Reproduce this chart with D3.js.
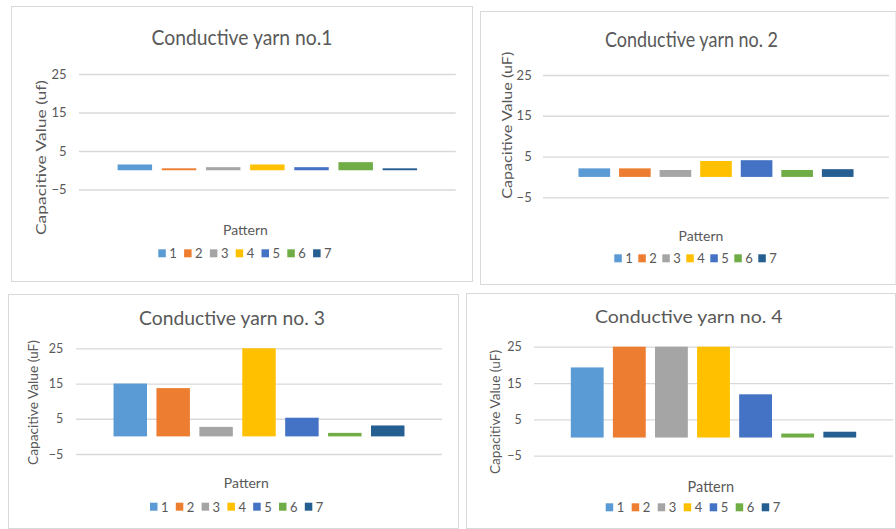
<!DOCTYPE html>
<html>
<head>
<meta charset="utf-8">
<script src="https://cdn.jsdelivr.net/npm/d3@7/dist/d3.min.js"></script>
<style>
  html, body { margin: 0; padding: 0; background: #ffffff; }
  svg { display: block; }
  text { font-family: Lato, "Open Sans", sans-serif; fill: #595959; }
</style>
</head>
<body>
<svg id="chart" width="896" height="529"></svg>
<script>
// Series labels (patterns) and measured capacitance per yarn
const patterns = ["1", "2", "3", "4", "5", "6", "7"];
const yarn1 = [1.5, 0.5, 0.8, 1.5, 0.8, 2.1, 0.5];
const yarn2 = [2.1, 2.1, 1.7, 3.9, 4.1, 1.7, 1.9];
const yarn3 = [15.0, 13.7, 2.7, 25.0, 5.3, 1.0, 3.1];
const yarn4 = [19.3, 25.0, 25.0, 25.0, 11.9, 1.1, 1.6];
const yTicks = [-5, 5, 15, 25];
const yDomain = [-5, 25];
const chartTitles = ["Conductive yarn no.1", "Conductive yarn no. 2", "Conductive yarn no. 3", "Conductive yarn no. 4"];
const yTitles = ["Capacitive Value (uf)", "Capacitive Value (uF)", "Capacitive Value (uF)", "Capacitive Value (uF)"];
const xTitle = "Pattern";
const category = ["Pattern"];

// Office-style series palette
const palette = ["#5B9BD5", "#ED7D31", "#A5A5A5", "#FFC000", "#4472C4", "#70AD47", "#255E91"];

// Panel layout: frame, plot extent, and text placement
const layouts = [
  { frame: [11, 6, 472, 281], plotX: [79, 455.7], plotY: [74, 189.5],
    title: { x: 242, y: 45, len: 181, size: 21 },
    yTitle: { x: 40.7, y: 157.5, len: 155, size: 14 },
    tickRight: 66.5, tickSize: 13,
    xTitle: { x: 245.5, y: 235, size: 14 },
    legend: { x: 158.3, y: 253.3, step: 25.8, size: 13 } },
  { frame: [480, 11, 895.5, 284], plotX: [543, 889], plotY: [75, 197.3],
    title: { x: 691.5, y: 47, len: 173, size: 21 },
    yTitle: { x: 506.7, y: 125.3, len: 147, size: 14 },
    tickRight: 531.7, tickSize: 13,
    xTitle: { x: 701, y: 240.7, size: 14 },
    legend: { x: 614.3, y: 258.3, step: 24, size: 13 } },
  { frame: [8, 294, 458, 528], plotX: [76, 442], plotY: [348.3, 454],
    title: { x: 232, y: 325, len: 186, size: 18.5 },
    yTitle: { x: 33.3, y: 402.5, len: 125, size: 13 },
    tickRight: 63.3, tickSize: 12.5,
    xTitle: { x: 246.3, y: 488.3, size: 14 },
    legend: { x: 150, y: 506.7, step: 25.8, size: 13 } },
  { frame: [466, 293, 895, 528], plotX: [534, 893], plotY: [346.7, 455.7],
    title: { x: 688.8, y: 323.3, len: 187.7, size: 18 },
    yTitle: { x: 495, y: 412, len: 124, size: 13 },
    tickRight: 521.7, tickSize: 12.5,
    xTitle: { x: 710.8, y: 492.3, size: 14.5 },
    legend: { x: 605.7, y: 507.3, step: 26, size: 13 } }
];

const seriesByYarn = [yarn1, yarn2, yarn3, yarn4];
const svg = d3.select("#chart");

layouts.forEach((L, i) => {
  const values = seriesByYarn[i];
  const g = svg.append("g");

  // Chart frame
  const [fx0, fy0, fx1, fy1] = L.frame;
  g.append("rect")
    .attr("x", fx0 + 0.5).attr("y", fy0 + 0.5)
    .attr("width", fx1 - fx0).attr("height", fy1 - fy0)
    .attr("fill", "#ffffff").attr("stroke", "#d9d9d9").attr("stroke-width", 1);

  // Scales
  const y = d3.scaleLinear().domain(yDomain).range([L.plotY[1], L.plotY[0]]);
  const x0 = d3.scaleBand().domain(category).range(L.plotX).paddingInner(0).paddingOuter(0.129);
  const x1 = d3.scaleBand().domain(patterns).range([0, x0.bandwidth()]).paddingInner(0.22).paddingOuter(0);
  const color = d3.scaleOrdinal().domain(patterns).range(palette);

  // Gridlines with value labels
  const plotW = L.plotX[1] - L.plotX[0];
  const axis = g.append("g")
    .attr("transform", `translate(${L.plotX[0]},0)`)
    .call(d3.axisLeft(y).tickValues(yTicks).tickSize(-plotW)
      .tickPadding(L.plotX[0] - L.tickRight).tickFormat(d3.format("d")));
  axis.select(".domain").remove();
  axis.selectAll(".tick line").attr("stroke", "#d9d9d9").attr("stroke-width", 1.3);
  axis.selectAll(".tick text")
    .style("font-size", L.tickSize + "px")
    .style("fill", "#595959")
    .style("font-family", "Lato, 'Open Sans', sans-serif");

  // Bars: one cluster, one bar per pattern
  const cluster = g.append("g").attr("transform", `translate(${x0(category[0])},0)`);
  cluster.selectAll("rect")
    .data(patterns.map((p, k) => ({ p, v: values[k] })))
    .join("rect")
    .attr("x", d => x1(d.p))
    .attr("width", x1.bandwidth())
    .attr("y", d => y(Math.max(0, d.v)))
    .attr("height", d => Math.abs(y(d.v) - y(0)))
    .attr("fill", d => color(d.p));

  // Chart title
  g.append("text")
    .attr("x", L.title.x).attr("y", L.title.y)
    .attr("text-anchor", "middle")
    .attr("textLength", L.title.len).attr("lengthAdjust", "spacingAndGlyphs")
    .style("font-size", L.title.size + "px")
    .text(chartTitles[i]);

  // Value axis title
  g.append("text")
    .attr("transform", `translate(${L.yTitle.x},${L.yTitle.y}) rotate(-90)`)
    .attr("text-anchor", "middle")
    .attr("dominant-baseline", "central")
    .attr("textLength", L.yTitle.len).attr("lengthAdjust", "spacingAndGlyphs")
    .style("font-size", L.yTitle.size + "px")
    .text(yTitles[i]);

  // Category axis title
  g.append("text")
    .attr("x", L.xTitle.x).attr("y", L.xTitle.y)
    .attr("text-anchor", "middle")
    .style("font-size", L.xTitle.size + "px")
    .text(xTitle);

  // Legend
  const legend = g.append("g");
  const items = legend.selectAll("g")
    .data(patterns)
    .join("g")
    .attr("transform", (d, k) => `translate(${L.legend.x + k * L.legend.step},${L.legend.y})`);
  items.append("rect")
    .attr("x", 0).attr("y", -4).attr("width", 7.5).attr("height", 8)
    .attr("fill", d => color(d));
  items.append("text")
    .attr("x", 11).attr("y", 0)
    .attr("dominant-baseline", "central")
    .style("font-size", L.legend.size + "px")
    .text(d => d);
});
</script>
</body>
</html>
